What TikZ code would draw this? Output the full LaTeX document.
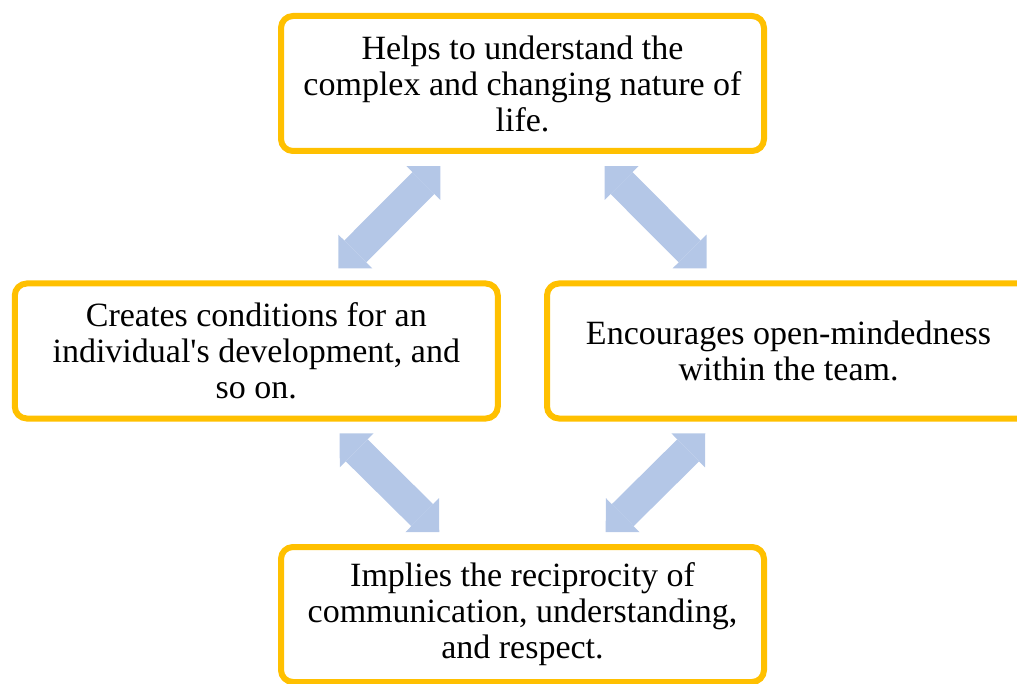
\documentclass[tikz,border=0pt]{standalone}
\usepackage{fontspec}
\setmainfont{Liberation Serif}
\usepackage{tikz}
\usetikzlibrary{arrows.meta,positioning}
\definecolor{boxorange}{RGB}{255,192,0}
\definecolor{linkblue}{RGB}{180,199,231}

\begin{document}
\begin{tikzpicture}[on grid,font=\fontsize{17pt}{18pt}\selectfont]
 \tikzstyle{topic}=[draw=boxorange,line width=3pt,rounded corners=6pt,
   minimum width=241.5pt,minimum height=67.5pt,inner sep=0pt,align=center]
 \tikzstyle{link}=[draw=linkblue,line width=15.5pt,shorten <=8.5pt,shorten >=8.5pt,
   {Triangle[width=24pt,length=12pt,line width=0pt]}-{Triangle[width=24pt,length=12pt,line width=0pt]}]

 \useasboundingbox (0,0) rectangle (508.5pt,-342pt);

   \node[topic] (help) at (261.25pt,-41.75pt) {Helps to understand the\\complex and changing nature of\\life.};
   \node[topic] (cond) [below left=133.75pt and 133.1pt of help] {Creates conditions for an\\individual\textquotesingle s development, and\\so on.};
   \node[topic] (open) [below right=133.75pt and 133pt of help] {Encourages open-mindedness\\within the team.};
   \node[topic] (recip) [below=265.5pt of help] {Implies the reciprocity of\\communication, understanding,\\and respect.};

  % two-headed links round the cycle
  \path
    (help) edge [link] (cond)
    (help) edge [link] (open)
    (cond) edge [link] (recip)
    (open) edge [link] (recip);

\end{tikzpicture}
\end{document}
